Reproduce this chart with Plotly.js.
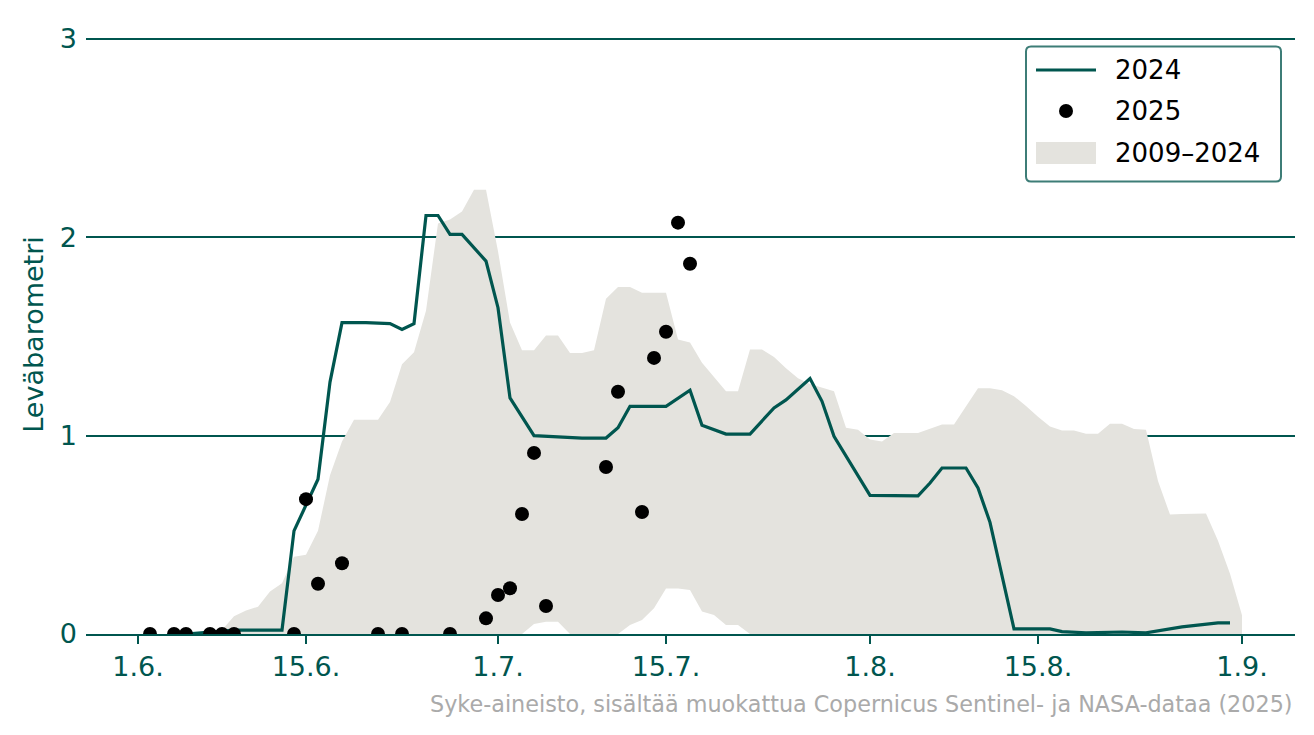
<!DOCTYPE html>
<html>
<head>
<meta charset="utf-8">
<script src="https://cdn.plot.ly/plotly-3.0.1.min.js"></script>
<style>
html, body { margin: 0; padding: 0; background: #ffffff; }
#chart { width: 1314px; height: 735px; }
</style>
</head>
<body>
<div id="chart"></div>
<script>
// ---- 2024 line ----
const line2024Dates = [
  "2025-06-05","2025-06-09","2025-06-13","2025-06-14","2025-06-16","2025-06-17","2025-06-18",
  "2025-06-20","2025-06-22","2025-06-23","2025-06-24","2025-06-25","2025-06-26","2025-06-27",
  "2025-06-28","2025-06-30","2025-07-01","2025-07-02","2025-07-04","2025-07-08","2025-07-10",
  "2025-07-11","2025-07-12","2025-07-15","2025-07-17","2025-07-18","2025-07-20","2025-07-22",
  "2025-07-24","2025-07-25","2025-07-27","2025-07-28","2025-07-29","2025-08-01","2025-08-05",
  "2025-08-06","2025-08-07","2025-08-09","2025-08-10","2025-08-11","2025-08-13","2025-08-16",
  "2025-08-17","2025-08-19","2025-08-22","2025-08-24","2025-08-27","2025-08-28","2025-08-30",
  "2025-08-31"
];
const line2024Values = [
  0.0, 0.02, 0.02, 0.52, 0.78, 1.27, 1.57,
  1.57, 1.565, 1.535, 1.565, 2.11, 2.11, 2.015,
  2.015, 1.88, 1.645, 1.19, 1.0, 0.988, 0.988,
  1.04, 1.148, 1.148, 1.229, 1.052, 1.008, 1.008,
  1.14, 1.18, 1.288, 1.173, 0.997, 0.699, 0.696,
  0.761, 0.837, 0.837, 0.736, 0.563, 0.026, 0.026,
  0.012, 0.006, 0.01, 0.006, 0.036, 0.042, 0.056,
  0.056
];

// ---- 2025 observations ----
const obs2025Dates = [
  "2025-06-02","2025-06-04","2025-06-05","2025-06-07","2025-06-08","2025-06-09","2025-06-14",
  "2025-06-15","2025-06-16","2025-06-18","2025-06-21","2025-06-23","2025-06-27","2025-06-30",
  "2025-07-01","2025-07-02","2025-07-03","2025-07-04","2025-07-05","2025-07-10","2025-07-11",
  "2025-07-13","2025-07-14","2025-07-15","2025-07-16","2025-07-17"
];
const obs2025Values = [
  0, 0, 0, 0, 0, 0, 0,
  0.68, 0.253, 0.357, 0, 0, 0, 0.079,
  0.197, 0.231, 0.605, 0.913, 0.141, 0.842, 1.221,
  0.615, 1.392, 1.524, 2.074, 1.867
];

// ---- 2009–2024 range ----
const bandDates = [
  "2025-06-06","2025-06-07","2025-06-08","2025-06-09","2025-06-10","2025-06-11","2025-06-12",
  "2025-06-13","2025-06-14","2025-06-15","2025-06-16","2025-06-17","2025-06-18","2025-06-19",
  "2025-06-20","2025-06-21","2025-06-22","2025-06-23","2025-06-24","2025-06-25","2025-06-26",
  "2025-06-27","2025-06-28","2025-06-29","2025-06-30","2025-07-01","2025-07-02","2025-07-03",
  "2025-07-04","2025-07-05","2025-07-06","2025-07-07","2025-07-08","2025-07-09","2025-07-10",
  "2025-07-11","2025-07-12","2025-07-13","2025-07-14","2025-07-15","2025-07-16","2025-07-17",
  "2025-07-18","2025-07-19","2025-07-20","2025-07-21","2025-07-22","2025-07-23","2025-07-24",
  "2025-07-25","2025-07-26","2025-07-27","2025-07-28","2025-07-29","2025-07-30","2025-07-31",
  "2025-08-01","2025-08-02","2025-08-03","2025-08-04","2025-08-05","2025-08-06","2025-08-07",
  "2025-08-08","2025-08-09","2025-08-10","2025-08-11","2025-08-12","2025-08-13","2025-08-14",
  "2025-08-15","2025-08-16","2025-08-17","2025-08-18","2025-08-19","2025-08-20","2025-08-21",
  "2025-08-22","2025-08-23","2025-08-24","2025-08-25","2025-08-26","2025-08-27","2025-08-28",
  "2025-08-29","2025-08-30","2025-08-31","2025-09-01"
];
const bandUpper = [
  0.0, 0.005, 0.02, 0.09, 0.118, 0.138, 0.214,
  0.256, 0.39, 0.40, 0.52, 0.80, 0.97, 1.08,
  1.08, 1.08, 1.17, 1.36, 1.42, 1.63, 2.07,
  2.09, 2.13, 2.24, 2.24, 1.93, 1.57, 1.43,
  1.43, 1.505, 1.505, 1.417, 1.417, 1.43, 1.69,
  1.75, 1.75, 1.72, 1.72, 1.72, 1.485, 1.47,
  1.367, 1.296, 1.224, 1.224, 1.434, 1.434, 1.397,
  1.34, 1.29, 1.26, 1.24, 1.224, 1.04, 1.03,
  0.98, 0.97, 1.014, 1.014, 1.014, 1.035, 1.056,
  1.056, 1.15, 1.239, 1.239, 1.229, 1.199, 1.15,
  1.095, 1.046, 1.026, 1.026, 1.01, 1.01, 1.06,
  1.06, 1.034, 1.03, 0.771, 0.602, 0.605, 0.607,
  0.608, 0.47, 0.304, 0.095
];
const bandLower = [
  0, 0, 0, 0, 0, 0, 0,
  0, 0, 0, 0, 0, 0, 0,
  0, 0, 0, 0, 0, 0, 0,
  0, 0, 0, 0, 0, 0, 0,
  0.05, 0.062, 0.062, 0, 0, 0, 0,
  0, 0.045, 0.07, 0.13, 0.23, 0.23, 0.222,
  0.113, 0.096, 0.045, 0.045, 0, 0, 0,
  0, 0, 0, 0, 0, 0, 0,
  0, 0, 0, 0, 0, 0, 0,
  0, 0, 0, 0, 0, 0, 0,
  0, 0, 0, 0, 0, 0, 0,
  0, 0, 0, 0, 0, 0, 0,
  0, 0, 0, 0
];

// ---- axis ticks & legend labels ----
const xTickVals = ["2025-06-01","2025-06-15","2025-07-01","2025-07-15","2025-08-01","2025-08-15","2025-09-01"];
const xTickText = ["1.6.","15.6.","1.7.","15.7.","1.8.","15.8.","1.9."];
const yTickVals = [0, 1, 2, 3];
const legendLabels = ["2024", "2025", "2009–2024"];

const TEAL = "#00564f";
const BAND = "#e4e3de";
const FONT = "DejaVu Sans, sans-serif";

// plot area in pixels (for placing the hand-drawn legend)
const W = 1314, H = 735;
const M = { l: 86, r: 19, t: 35, b: 101 };
const PW = W - M.l - M.r, PH = H - M.t - M.b;
const px = v => (v - M.l) / PW;
const py = v => (H - M.b - v) / PH;

const traces = [
  {
    x: bandDates, y: bandLower, type: "scatter", mode: "lines",
    line: { width: 0, color: "rgba(0,0,0,0)" }, hoverinfo: "skip", showlegend: false
  },
  {
    x: bandDates, y: bandUpper, type: "scatter", mode: "lines",
    fill: "tonexty", fillcolor: BAND,
    line: { width: 0, color: BAND }, name: legendLabels[2], showlegend: false
  },
  {
    x: line2024Dates, y: line2024Values, type: "scatter", mode: "lines",
    line: { color: TEAL, width: 3.2 }, name: legendLabels[0], showlegend: false
  },
  {
    x: obs2025Dates, y: obs2025Values, type: "scatter", mode: "markers",
    marker: { color: "#000000", size: 14 }, name: legendLabels[1], showlegend: false
  }
];

// legend box with rounded corners
const bx0 = px(1026), bx1 = px(1281), byT = py(46.5), byB = py(181.5);
const rx = 5 / PW, ry = 5 / PH;
const boxPath =
  `M${bx0 + rx},${byT} L${bx1 - rx},${byT} Q${bx1},${byT} ${bx1},${byT - ry} ` +
  `L${bx1},${byB + ry} Q${bx1},${byB} ${bx1 - rx},${byB} ` +
  `L${bx0 + rx},${byB} Q${bx0},${byB} ${bx0},${byB + ry} ` +
  `L${bx0},${byT - ry} Q${bx0},${byT} ${bx0 + rx},${byT} Z`;

const rowY = [70, 111, 153];

const shapes = [
  { type: "path", xref: "paper", yref: "paper", path: boxPath,
    fillcolor: "#ffffff", line: { color: "#3d7d77", width: 2 }, layer: "above" },
  { type: "line", xref: "paper", yref: "paper",
    x0: px(1036), x1: px(1096), y0: py(rowY[0]), y1: py(rowY[0]),
    line: { color: TEAL, width: 3.2 }, layer: "above" },
  { type: "circle", xref: "paper", yref: "paper",
    x0: px(1059), x1: px(1073), y0: py(rowY[1] - 7), y1: py(rowY[1] + 7),
    fillcolor: "#000000", line: { width: 0 }, layer: "above" },
  { type: "rect", xref: "paper", yref: "paper",
    x0: px(1036), x1: px(1096), y0: py(rowY[2] - 11), y1: py(rowY[2] + 11),
    fillcolor: BAND, line: { width: 0 }, layer: "above" }
];

const annotations = legendLabels.map((t, i) => ({
  xref: "paper", yref: "paper", x: px(1113), y: py(rowY[i]),
  xanchor: "left", yanchor: "middle", text: t, showarrow: false,
  font: { family: FONT, size: 26, color: "#000000" }
}));
annotations.push({
  xref: "paper", yref: "paper", x: 1, y: py(704), xanchor: "right", yanchor: "middle",
  text: "Syke-aineisto, sisältää muokattua Copernicus Sentinel- ja NASA-dataa (2025)",
  showarrow: false, font: { family: FONT, size: 22.3, color: "#aaaaaa" }
});

const layout = {
  width: W, height: H,
  margin: M,
  paper_bgcolor: "#ffffff", plot_bgcolor: "#ffffff",
  font: { family: FONT, size: 27, color: TEAL },
  showlegend: false,
  xaxis: {
    type: "date",
    range: ["2025-05-27 16:00", "2025-09-05 10:00"],
    tickvals: xTickVals, ticktext: xTickText,
    ticks: "outside", ticklen: 8, tickwidth: 2, tickcolor: TEAL,
    showline: true, linecolor: TEAL, linewidth: 2,
    showgrid: false, zeroline: false,
    tickfont: { family: FONT, size: 27, color: TEAL }
  },
  yaxis: {
    range: [0, 3.02],
    tickvals: yTickVals, ticktext: ["0","1","2","3"],
    showgrid: true, gridcolor: TEAL, gridwidth: 2,
    zeroline: false, showline: false, ticks: "",
    ticklabelstandoff: 8,
    tickfont: { family: FONT, size: 27, color: TEAL },
    title: { text: "Leväbarometri", font: { family: FONT, size: 27, color: TEAL }, standoff: 8 }
  },
  shapes: shapes,
  annotations: annotations
};

Plotly.newPlot("chart", traces, layout, { staticPlot: true, displayModeBar: false });
</script>
</body>
</html>
